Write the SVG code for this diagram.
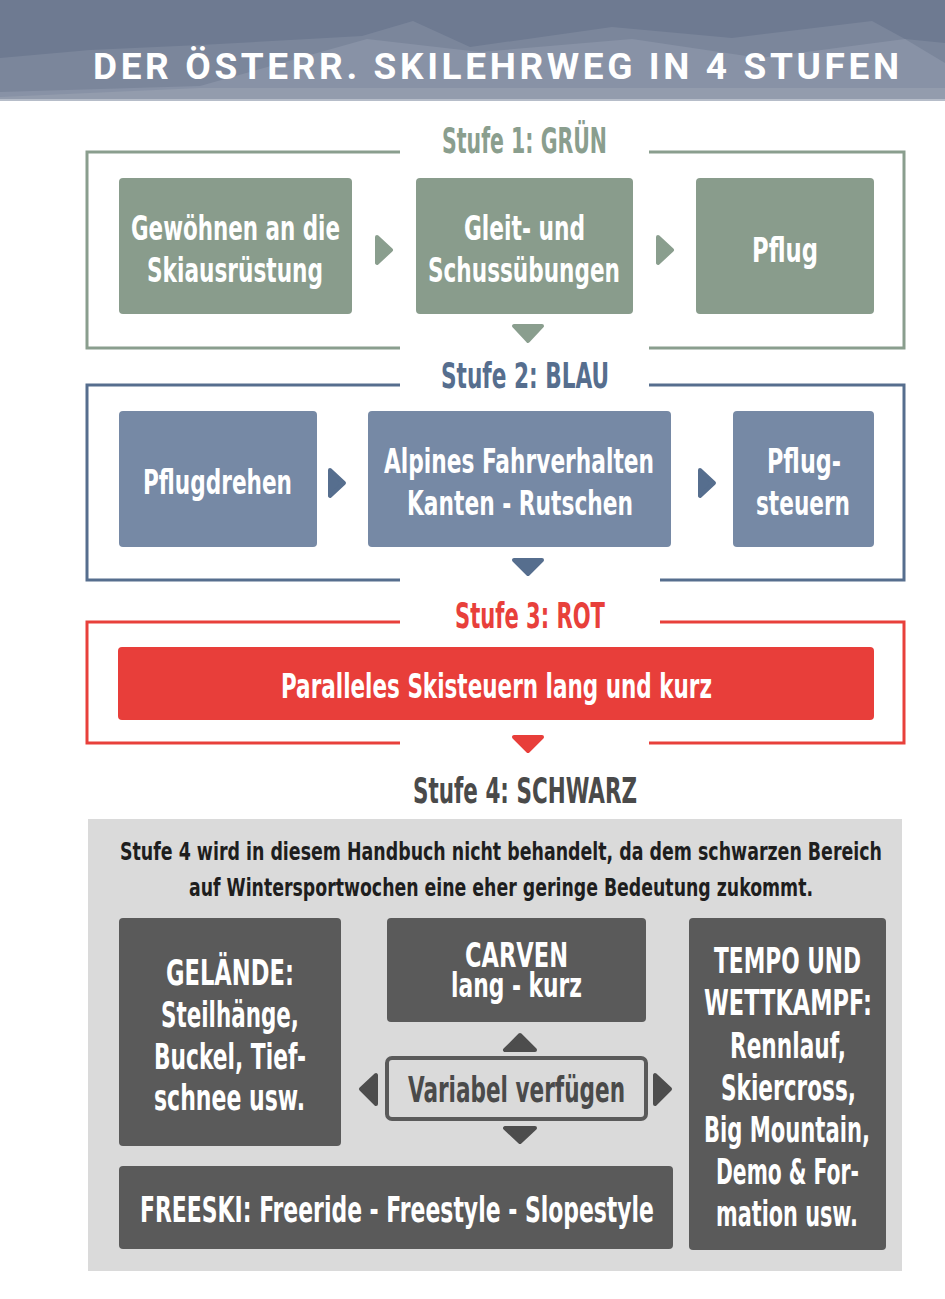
<svg xmlns="http://www.w3.org/2000/svg" width="945" height="1299" viewBox="0 0 945 1299">
<style>
.t{font-family:"Liberation Sans Narrow","DejaVu Sans Condensed","Liberation Sans",sans-serif;font-weight:bold}
.w{fill:#ffffff}
.n{font-size:34px}
.st{font-size:36px}
.g4{font-size:36px}
.fr{fill:none;stroke-width:3}
.ag{fill:#8a9e8e;stroke:#8a9e8e;stroke-width:4;stroke-linejoin:round}
.ab{fill:#566e8e;stroke:#566e8e;stroke-width:4;stroke-linejoin:round}
.ar{fill:#e83e3a;stroke:#e83e3a;stroke-width:4;stroke-linejoin:round}
.ak{fill:#4d4d4d;stroke:#4d4d4d;stroke-width:4;stroke-linejoin:round}
</style>
<rect x="0" y="0" width="945" height="1299" fill="#ffffff"/>
<g id="header">
<rect x="0" y="0" width="945" height="101" fill="#6e7a91"/>
<polygon points="0,58 90,50 200,45 362,36 413,21 470,47 612,27 732,38 872,21 905,39 945,43 945,101 0,101" fill="#7b869b"/>
<polygon points="0,101 0,92 200,86 367,39 480,52 632,39 760,58 905,39 945,63 945,101" fill="#8892a6"/>
<polygon points="0,101 0,97 200,88 945,88 945,101" fill="#939cad"/>
<rect x="0" y="99" width="945" height="2" fill="#b6bdc9"/>
<text x="93" y="79" font-family="Roboto,'Liberation Sans',sans-serif" font-weight="bold" font-size="37" fill="#ffffff" letter-spacing="4" textLength="810" lengthAdjust="spacing">DER ÖSTERR. SKILEHRWEG IN 4 STUFEN</text>
</g>
<g id="stufe1">
<path class="fr" stroke="#8a9e8e" d="M400,152 H87 V348 H400 M649,348 H904 V152 H649"/>
<text class="t st" x="442" y="153" fill="#8a9e8e" textLength="165" lengthAdjust="spacingAndGlyphs">Stufe 1: GRÜN</text>
</g>
<g id="n-gewoehnen">
<rect x="119" y="178" width="233" height="136" rx="4" fill="#899c8c"/>
<text class="t n w" x="131" y="240" textLength="209" lengthAdjust="spacingAndGlyphs">Gewöhnen an die</text>
<text class="t n w" x="147" y="282" textLength="176" lengthAdjust="spacingAndGlyphs">Skiausrüstung</text>
</g>
<g id="n-gleit">
<rect x="416" y="178" width="217" height="136" rx="4" fill="#899c8c"/>
<text class="t n w" x="464" y="240" textLength="121" lengthAdjust="spacingAndGlyphs">Gleit- und</text>
<text class="t n w" x="428" y="282" textLength="192" lengthAdjust="spacingAndGlyphs">Schussübungen</text>
</g>
<g id="n-pflug">
<rect x="696" y="178" width="178" height="136" rx="4" fill="#899c8c"/>
<text class="t n w" x="752" y="262" textLength="66" lengthAdjust="spacingAndGlyphs">Pflug</text>
</g>
<g id="stufe2">
<path class="fr" stroke="#566e8e" d="M400,385 H87 V580 H400 M660,580 H904 V385 H649"/>
<text class="t st" x="441" y="388" fill="#566e8e" textLength="168" lengthAdjust="spacingAndGlyphs">Stufe 2: BLAU</text>
</g>
<g id="n-pflugdrehen">
<rect x="119" y="411" width="198" height="136" rx="4" fill="#7689a5"/>
<text class="t n w" x="143" y="494" textLength="149" lengthAdjust="spacingAndGlyphs">Pflugdrehen</text>
</g>
<g id="n-alpines">
<rect x="368" y="411" width="303" height="136" rx="4" fill="#7689a5"/>
<text class="t n w" x="384" y="473" textLength="270" lengthAdjust="spacingAndGlyphs">Alpines Fahrverhalten</text>
<text class="t n w" x="407" y="515" textLength="226" lengthAdjust="spacingAndGlyphs">Kanten - Rutschen</text>
</g>
<g id="n-pflugsteuern">
<rect x="733" y="411" width="141" height="136" rx="4" fill="#7689a5"/>
<text class="t n w" x="767" y="473" textLength="74" lengthAdjust="spacingAndGlyphs">Pflug-</text>
<text class="t n w" x="756" y="515" textLength="94" lengthAdjust="spacingAndGlyphs">steuern</text>
</g>
<g id="stufe3">
<path class="fr" stroke="#e8403b" d="M400,622 H87 V743 H400 M649,743 H904 V622 H660"/>
<text class="t st" x="455" y="628" fill="#e8403b" textLength="150" lengthAdjust="spacingAndGlyphs">Stufe 3: ROT</text>
</g>
<g id="n-parallel">
<rect x="118" y="647" width="756" height="73" rx="4" fill="#e83e3a"/>
<text class="t n w" x="281" y="698" textLength="431" lengthAdjust="spacingAndGlyphs">Paralleles Skisteuern lang und kurz</text>
</g>
<g id="stufe4">
<text class="t st" x="413" y="803" fill="#4a4a4a" textLength="224" lengthAdjust="spacingAndGlyphs">Stufe 4: SCHWARZ</text>
<rect x="88" y="819" width="814" height="452" fill="#dadada"/>
<text class="t" font-size="25" x="120" y="860" fill="#1e1e1e" textLength="762" lengthAdjust="spacingAndGlyphs">Stufe 4 wird in diesem Handbuch nicht behandelt, da dem schwarzen Bereich</text>
<text class="t" font-size="25" x="189" y="896" fill="#1e1e1e" textLength="624" lengthAdjust="spacingAndGlyphs">auf Wintersportwochen eine eher geringe Bedeutung zukommt.</text>
</g>
<g id="n-gelaende">
<rect x="119" y="918" width="222" height="228" rx="4" fill="#5a5a5a"/>
<text class="t g4 w" x="166" y="985" textLength="128" lengthAdjust="spacingAndGlyphs">GELÄNDE:</text>
<text class="t g4 w" x="161" y="1027" textLength="138" lengthAdjust="spacingAndGlyphs">Steilhänge,</text>
<text class="t g4 w" x="154" y="1069" textLength="152" lengthAdjust="spacingAndGlyphs">Buckel, Tief-</text>
<text class="t g4 w" x="154" y="1110" textLength="151" lengthAdjust="spacingAndGlyphs">schnee usw.</text>
</g>
<g id="n-carven">
<rect x="387" y="918" width="259" height="104" rx="4" fill="#5a5a5a"/>
<text class="t w" font-size="34" x="465" y="967" textLength="103" lengthAdjust="spacingAndGlyphs">CARVEN</text>
<text class="t w" font-size="34" x="451" y="997" textLength="131" lengthAdjust="spacingAndGlyphs">lang - kurz</text>
</g>
<g id="n-tempo">
<rect x="689" y="918" width="197" height="332" rx="4" fill="#5a5a5a"/>
<text class="t g4 w" x="714" y="973" textLength="147" lengthAdjust="spacingAndGlyphs">TEMPO UND</text>
<text class="t g4 w" x="704" y="1015" textLength="168" lengthAdjust="spacingAndGlyphs">WETTKAMPF:</text>
<text class="t g4 w" x="730" y="1058" textLength="116" lengthAdjust="spacingAndGlyphs">Rennlauf,</text>
<text class="t g4 w" x="721" y="1100" textLength="135" lengthAdjust="spacingAndGlyphs">Skiercross,</text>
<text class="t g4 w" x="704" y="1142" textLength="166" lengthAdjust="spacingAndGlyphs">Big Mountain,</text>
<text class="t g4 w" x="716" y="1184" textLength="143" lengthAdjust="spacingAndGlyphs">Demo &amp; For-</text>
<text class="t g4 w" x="716" y="1226" textLength="142" lengthAdjust="spacingAndGlyphs">mation usw.</text>
</g>
<g id="n-variabel">
<rect x="387" y="1058" width="259" height="61" rx="5" fill="#dadada" stroke="#5a5a5a" stroke-width="4"/>
<text class="t g4" x="408" y="1102" fill="#4a4a4a" textLength="217" lengthAdjust="spacingAndGlyphs">Variabel verfügen</text>
</g>
<g id="n-freeski">
<rect x="119" y="1166" width="554" height="83" rx="4" fill="#5a5a5a"/>
<text class="t g4 w" x="140" y="1222" textLength="514" lengthAdjust="spacingAndGlyphs">FREESKI: Freeride - Freestyle - Slopestyle</text>
</g>
<g id="connectors">
<polygon class="ag" points="377,237 391,250 377,263"/>
<polygon class="ag" points="658,237 672,250 658,263"/>
<polygon class="ag" points="514,326 542,326 528,341"/>
<polygon class="ab" points="330,470 344,483 330,496"/>
<polygon class="ab" points="700,470 714,483 700,496"/>
<polygon class="ab" points="514,560 542,560 528,574"/>
<polygon class="ar" points="514,737 542,737 528,751"/>
<polygon class="ak" points="505,1050 535,1050 520,1035"/>
<polygon class="ak" points="505,1128 535,1128 520,1142"/>
<polygon class="ak" points="376,1075 376,1104 361,1089"/>
<polygon class="ak" points="655,1075 655,1104 670,1089"/>
</g>
</svg>
